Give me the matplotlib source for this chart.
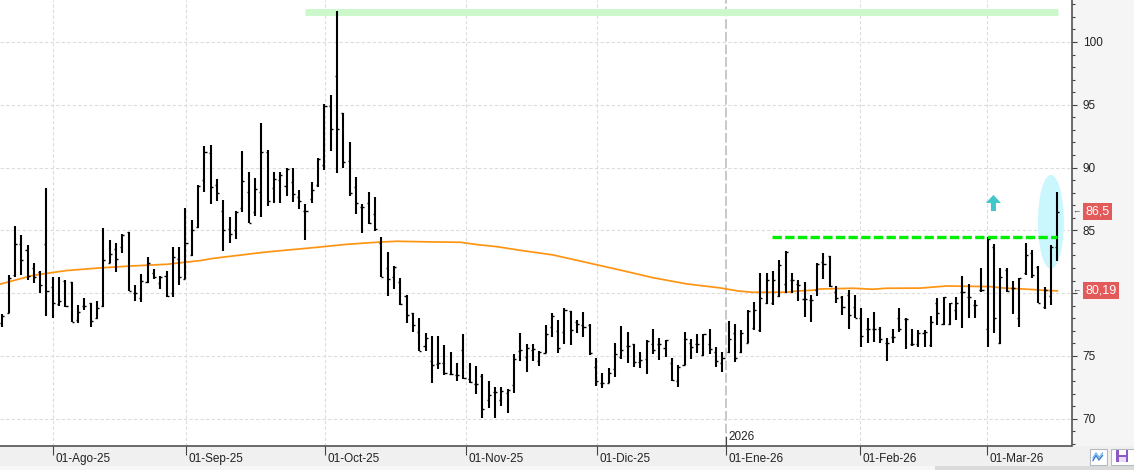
import numpy as np
import matplotlib.pyplot as plt
import matplotlib.transforms as mtransforms
from matplotlib.patches import Rectangle, Ellipse, Polygon

plt.rcParams['font.family'] = ['Liberation Sans', 'DejaVu Sans']

# daily OHLC bars (one per trading session, late Jul 2025 -> mid Mar 2026)
opens = [77.6, 78.45, 81.45, 83.9, 83.4, 82.0, 81.7, 83.9, 80.47, 79.1,
         80.95, 80.92, 77.9, 79.0, 79.2, 78.0, 78.95, 82.38, 83.55, 83.65,
         84.9, 80.05, 79.6, 80.85, 81.58, 80.84, 81.37, 80.05, 82.7, 81.16,
         83.04, 85.24, 89.0, 91.13, 88.61, 86.57, 85.08, 85.03, 86.75, 88.03,
         86.43, 88.03, 91.21, 88.35, 89.0, 88.53, 88.87, 87.68, 86.54, 87.47,
         88.61, 90.2, 94.9, 97.29, 94.32, 90.55, 88.43, 86.89, 87.15, 86.28,
         83.97, 81.98, 81.32, 80.9, 79.78, 78.4, 76.94, 75.8, 74.6, 74.36,
         74.42, 73.54, 73.49, 75.48, 73.17, 72.77, 73.4, 71.5, 72.16, 71.5,
         72.08, 72.69, 75.42, 74.95, 75.48, 74.6, 75.27, 77.28, 76.99, 76.94,
         78.58, 77.73, 77.47, 77.47, 74.15, 72.88, 72.88, 73.94, 74.95, 75.8,
         75.95, 74.55, 74.74, 75.95, 75.95, 75.6, 74.47, 73.04, 74.28, 76.06,
         75.95, 75.08, 75.95, 75.35, 74.47, 75.32, 76.86, 75.29, 76.06, 77.2,
         77.07, 79.19, 79.24, 79.78, 80.73, 81.05, 80.73, 79.51, 79.46, 80.25,
         82.5, 82.96, 80.12, 79.72, 79.86, 78.93, 78.0, 77.12, 77.12, 77.12,
         76.06, 76.48, 78.0, 77.92, 75.93, 75.93, 76.8, 75.88, 79.19, 77.55,
         77.55, 78.66, 80.12, 79.72, 79.06, 80.25, 77.12, 83.7, 76.06, 81.85,
         80.39, 78.0, 81.58, 83.23, 82.11, 78.93, 79.78, 83.7]
highs = [78.35, 81.45, 85.35, 84.63, 83.84, 82.38, 81.77, 88.35, 81.26, 81.26,
         81.05, 80.92, 79.06, 79.59, 79.25, 79.38, 85.17, 84.24, 83.97, 84.71,
         84.9, 80.65, 81.53, 82.91, 81.95, 81.37, 81.8, 83.71, 83.71, 86.76,
         85.83, 88.6, 91.72, 91.8, 89.06, 87.42, 86.09, 86.57, 91.32, 89.65,
         89.14, 93.52, 91.4, 89.65, 89.65, 89.94, 89.94, 88.21, 87.1, 88.82,
         90.73, 95.06, 95.78, 102.46, 94.32, 92.01, 89.25, 87.1, 88.05, 87.66,
         84.45, 83.25, 82.16, 81.24, 79.86, 78.4, 78.03, 76.8, 76.59, 76.59,
         75.88, 75.29, 74.42, 76.75, 74.44, 74.2, 73.54, 73.03, 72.56, 72.56,
         72.35, 75.16, 76.8, 75.95, 75.95, 75.4, 77.47, 78.4, 77.87, 78.8,
         78.58, 77.87, 78.48, 77.52, 74.81, 73.67, 74.02, 76.01, 77.39, 76.88,
         75.95, 75.32, 76.27, 77.15, 76.41, 76.27, 74.81, 74.28, 76.88, 76.33,
         76.72, 76.72, 77.15, 75.69, 75.35, 77.79, 77.55, 77.07, 78.66, 79.32,
         81.58, 81.58, 81.77, 82.64, 83.36, 81.58, 81.05, 80.92, 79.86, 82.38,
         83.17, 82.96, 80.57, 79.8, 80.25, 79.86, 78.79, 78.0, 78.53, 77.33,
         76.4, 77.15, 78.79, 78.0, 77.12, 77.07, 77.07, 78.18, 79.64, 79.72,
         79.24, 79.72, 81.37, 80.73, 79.46, 82.03, 84.5, 83.92, 82.03, 82.03,
         81.0, 81.18, 84.02, 83.44, 82.16, 80.52, 83.84, 88.08]
lows = [77.34, 78.45, 81.32, 81.45, 81.05, 80.79, 80.04, 78.21, 78.0, 79.0,
        78.93, 77.68, 77.6, 78.66, 77.28, 77.92, 78.93, 82.38, 81.72, 83.17,
        80.15, 79.4, 79.27, 80.79, 81.13, 80.31, 79.73, 79.73, 80.65, 81.11,
        82.99, 85.21, 88.08, 87.1, 87.34, 83.38, 84.02, 84.31, 86.49, 85.56,
        86.14, 86.04, 86.97, 87.2, 87.2, 87.74, 87.28, 86.73, 84.23, 87.2,
        88.48, 89.81, 91.34, 89.59, 89.99, 87.74, 86.3, 84.82, 85.5, 84.95,
        81.32, 79.8, 80.36, 79.09, 77.65, 76.91, 75.42, 75.37, 72.82, 73.97,
        73.49, 73.49, 73.04, 73.14, 72.82, 71.97, 70.04, 70.86, 70.09, 71.02,
        70.43, 72.03, 74.6, 73.75, 74.63, 74.2, 75.27, 76.54, 75.27, 75.95,
        75.88, 76.86, 76.54, 75.08, 72.61, 72.43, 72.88, 73.35, 74.76, 74.47,
        74.15, 74.07, 73.57, 75.16, 74.68, 74.95, 73.04, 72.56, 74.28, 74.76,
        75.21, 75.0, 75.13, 74.15, 73.75, 75.27, 74.55, 75.27, 76.01, 77.07,
        76.94, 79.14, 79.06, 79.67, 80.04, 80.04, 79.4, 78.13, 77.73, 79.78,
        81.1, 80.52, 79.19, 78.26, 77.12, 78.0, 75.69, 76.06, 76.14, 76.01,
        74.63, 76.06, 76.94, 75.53, 75.8, 75.74, 75.74, 75.74, 77.47, 77.47,
        77.47, 77.87, 77.26, 78.0, 78.0, 80.1, 75.74, 76.86, 75.95, 80.12,
        78.34, 77.33, 81.45, 81.24, 79.19, 78.71, 79.06, 82.59]
closes = [78.2, 81.2, 83.9, 82.64, 81.37, 81.26, 80.63, 80.18, 79.2, 79.38,
          79.0, 77.68, 78.48, 79.0, 77.79, 78.8, 82.64, 83.1, 82.7, 84.6,
          80.15, 80.0, 80.97, 82.38, 81.26, 81.32, 79.8, 82.86, 81.26, 83.97,
          85.03, 88.5, 91.21, 88.43, 88.0, 85.03, 84.68, 86.43, 88.93, 85.56,
          88.27, 91.21, 87.34, 89.06, 89.4, 89.9, 87.9, 87.3, 86.54, 88.21,
          90.68, 94.9, 93.07, 93.07, 90.42, 87.95, 87.15, 86.89, 85.56, 85.13,
          81.32, 81.13, 82.1, 79.14, 78.26, 77.47, 75.42, 76.4, 74.28, 74.47,
          73.62, 73.57, 73.49, 73.22, 72.9, 72.77, 70.78, 71.9, 72.16, 72.24,
          72.29, 74.76, 75.48, 75.6, 75.53, 75.35, 76.73, 78.21, 75.61, 78.66,
          77.07, 77.55, 77.28, 75.21, 73.04, 72.83, 73.62, 75.13, 75.48, 75.8,
          74.55, 74.68, 76.22, 75.48, 75.95, 76.27, 73.09, 74.1, 76.35, 75.74,
          75.95, 76.72, 75.53, 74.6, 74.87, 76.33, 74.87, 76.86, 78.61, 78.66,
          79.59, 81.05, 81.05, 82.24, 83.3, 81.05, 80.65, 79.51, 79.46, 82.3,
          82.3, 80.57, 79.59, 78.87, 78.26, 78.0, 76.59, 77.12, 77.12, 76.38,
          76.01, 76.48, 77.12, 77.92, 75.93, 76.8, 76.94, 77.73, 78.4, 79.67,
          79.19, 79.19, 80.12, 79.67, 79.06, 80.25, 84.29, 78.0, 81.32, 80.18,
          80.39, 81.18, 83.04, 81.45, 79.19, 80.25, 83.7, 86.5]

# moving average read at sample bar positions
ma_idx = [-0.4, 4.9, 10.2, 15.5, 20.7, 26.1, 31.3, 33.4, 41.3, 49.2, 54.6, 59.8,
          62.5, 67.7, 72.5, 75.6, 78.3, 82.0, 87.2, 92.6, 97.8, 103.0, 108.4,
          113.6, 116.5, 118.8, 124.2, 125.8, 128.3, 129.4, 134.7, 137.8, 140.0,
          145.3, 149.5, 156.4, 158.4, 162.4, 164.7, 167.0]
ma_val = [80.71, 81.42, 81.8, 82.01, 82.17, 82.3, 82.59, 82.77, 83.25, 83.62,
          83.89, 84.07, 84.13, 84.08, 84.05, 83.84, 83.7, 83.41, 83.04, 82.43,
          81.84, 81.23, 80.73, 80.42, 80.17, 80.07, 80.07, 80.17, 80.23, 80.33,
          80.39, 80.31, 80.39, 80.4, 80.57, 80.52, 80.41, 80.31, 80.23, 80.18]

month_pos = [8.1, 29.1, 51.1, 73.4, 94.1, 114.6, 135.8, 155.9]
month_labels = ['01-Ago-25', '01-Sep-25', '01-Oct-25', '01-Nov-25',
                '01-Dic-25', '01-Ene-26', '01-Feb-26', '01-Mar-26']
year_pos = 114.6

# right axis: 80 is hidden under the moving-average tag
y_ticks = [70, 75, 80, 85, 90, 95, 100]
y_labels = ['70', '75', '', '85', '90', '95', '100']

top_level, top_start, top_end = 102.35, 47.9, 167.1
res_level, res_start, res_end = 84.47, 121.8, 166.9
signal_x, signal_lo, signal_hi = 156.9, 86.54, 87.82
last_close, last_ma = '86,5', '80,19'

W, H = 1134, 470
fig = plt.figure(figsize=(W / 100, H / 100), dpi=100, facecolor='#f5f5f6')
ax = fig.add_axes([0, 1 - 446 / H, 1071.5 / W, 446 / H])
ax.set_facecolor('white')
ax.set_xlim(-0.36, 169.26)
ax.set_ylim(67.83, 103.34)


def fig_rect(x0, y0, x1, y1, **kw):
    r = Rectangle((x0 / W, 1 - y1 / H), (x1 - x0) / W, (y1 - y0) / H,
                  transform=fig.transFigure, **kw)
    fig.add_artist(r)


# bottom date band + scroll strip
fig_rect(0, 446, W, 466, facecolor='#f0f0f0', edgecolor='none', zorder=-5)
fig_rect(0, 466, W, 470, facecolor='#f7f7f7', edgecolor='none', zorder=-5)
fig_rect(935, 466, W, 470, facecolor='#dadada', edgecolor='none', zorder=-5)

# grid
for v in y_ticks:
    ax.axhline(v, color='#dcdcdc', lw=0.8, ls=(0, (3, 2)), zorder=0.5)
for p in month_pos:
    if p == year_pos:
        ax.axvline(p, color='#c8c8c8', lw=1.4, ls=(0, (5, 1.5)), zorder=0.5)
    else:
        ax.axvline(p, color='#dcdcdc', lw=0.8, ls=(0, (3, 2)), zorder=0.5)

# highlight ellipse around last bar
ax.add_patch(Ellipse((166.0, 85.67), 4.1, 7.48, facecolor='#c9f7fd',
                     edgecolor='none', zorder=1))

# levels
ax.hlines(top_level, top_start, top_end, color='#ccf9cc', lw=5, zorder=1)
ax.plot(ma_idx, ma_val, color='#ff9412', lw=1.25, zorder=2)

idx = np.arange(len(closes))
ax.vlines(idx, lows, highs, color='black', lw=1.5, zorder=3)
ax.hlines(opens, idx - 0.33, idx, color='black', lw=1.0, zorder=3)
ax.hlines(closes, idx, idx + 0.33, color='black', lw=1.0, zorder=3)

ax.hlines(res_level, res_start, res_end, color='#00ee00', lw=2.4,
          linestyles=(0, (2.8, 1.0)), zorder=4)

# cyan signal arrow
hw, sw = 1.19, 0.4
head_base = signal_hi - 0.64
ax.add_patch(Polygon([(signal_x, signal_hi), (signal_x + hw, head_base),
                      (signal_x + sw, head_base), (signal_x + sw, signal_lo),
                      (signal_x - sw, signal_lo), (signal_x - sw, head_base),
                      (signal_x - hw, head_base)],
                     closed=True, facecolor='#3fc7c9', edgecolor='none', zorder=5))

# axes styling
for s in ['left', 'top']:
    ax.spines[s].set_visible(False)
ax.spines['right'].set_color('#444444')
ax.spines['bottom'].set_color('#444444')
ax.spines['right'].set_linewidth(1.1)
ax.spines['bottom'].set_linewidth(1.1)

ax.yaxis.tick_right()
ax.set_yticks(y_ticks)
ax.set_yticklabels(y_labels)
ax.set_yticks(range(68, 104), minor=True)
ax.tick_params(axis='y', which='major', length=3.8, width=0.8, color='#444444',
               pad=4.3, labelsize=8.5, labelcolor='#222222')
ax.tick_params(axis='y', which='minor', length=2.3, width=0.8, color='#444444')

ax.set_xticks(month_pos)
ax.set_xticklabels(month_labels)
ax.tick_params(axis='x', which='major', length=6.5, width=0.8, color='#444444',
               pad=-1.5, labelsize=8.5, labelcolor='#222222')
offset = mtransforms.ScaledTranslation(2.5 / 100, 0, fig.dpi_scale_trans)
for lab in ax.get_xticklabels():
    lab.set_horizontalalignment('left')
    lab.set_transform(lab.get_transform() + offset)

# year marker
blend = mtransforms.blended_transform_factory(ax.transData, ax.transAxes)
ax.plot([year_pos, year_pos], [0, 9 / 446], transform=blend, color='#444444',
        lw=0.8, clip_on=False, zorder=6)
ax.text(year_pos, 9 / 446, '2026', transform=blend + offset, fontsize=8.5,
        color='#222222', ha='left', va='center')

# price tags on the right axis
rblend = mtransforms.blended_transform_factory(ax.transAxes, ax.transData)
for val, txt in [(closes[-1], last_close), (ma_val[-1], last_ma)]:
    ax.text(1 + 1 / 1071.5, val, '\u2190', transform=rblend, fontsize=6,
            color='#444444', ha='left', va='center', clip_on=False)
    ax.text(1 + 13.5 / 1071.5, val, txt, transform=rblend, fontsize=9,
            color='white', ha='left', va='center', clip_on=False, zorder=7,
            bbox=dict(boxstyle='square,pad=0.2', facecolor='#e35a5a',
                      edgecolor='none'))

# toolbar buttons bottom right
fig_rect(1089.5, 448.5, 1106.5, 465, facecolor='white', edgecolor='#b4b8bf', lw=0.8)
for dy, col in [(0, '#7ab6ec'), (2.5, '#3d7fcf')]:
    xs = np.array([1093, 1096, 1099, 1102.5])
    ys = np.array([458, 453, 457.5, 453]) + dy
    fig.add_artist(plt.Line2D(xs / W, 1 - ys / H, transform=fig.transFigure,
                              color=col, lw=1.0))
fig_rect(1111, 448.5, 1134, 465, facecolor='white', edgecolor='#b4b8bf', lw=0.8)
fig_rect(1116, 450, 1128, 462, facecolor='#8f58c8', edgecolor='none')
fig_rect(1118.5, 450, 1125.5, 454.5, facecolor='white', edgecolor='none')
fig_rect(1118.5, 457, 1125.5, 462, facecolor='#e9dcf7', edgecolor='none')

fig.savefig('out.png', dpi=100, facecolor=fig.get_facecolor())
